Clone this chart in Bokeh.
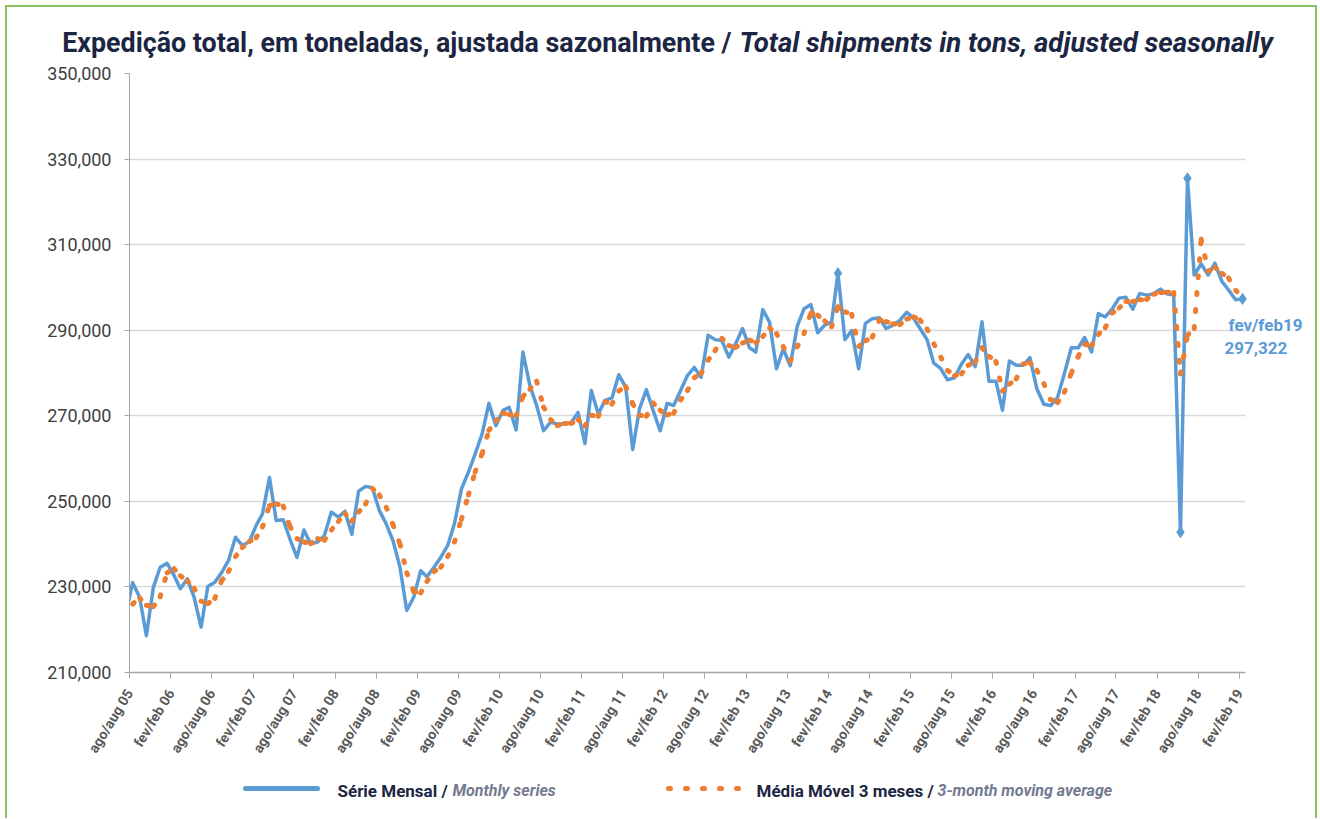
import numpy as np
import pandas as pd
from bokeh.plotting import figure
from bokeh.layouts import column
from bokeh.models import Range1d, FixedTicker, NumeralTickFormatter, Label
from bokeh.core.properties import value
from bokeh.embed import file_html
from bokeh.resources import INLINE

# ---------------- data (thousand tons, monthly, Jul-2005 .. Feb-2019) ----------------
first_month = "2005-07"
monthly = [
    223.5, 231.0, 227.6, 218.6, 229.9, 234.6,
    235.5, 232.7, 229.6, 231.9, 227.6, 220.6, 230.1, 231.1, 233.4, 236.2, 241.6, 239.7,
    240.5, 244.4, 247.1, 255.6, 245.5, 245.7, 241.2, 236.9, 243.3, 240.1, 240.5, 242.0,
    247.5, 246.3, 247.7, 242.3, 252.4, 253.5, 253.2, 247.9, 244.7, 240.8, 234.6, 224.5,
    227.6, 233.8, 232.4, 234.6, 236.9, 239.7, 244.8, 252.9, 256.8, 261.1, 265.8, 272.9,
    267.7, 271.2, 272.0, 266.7, 284.9, 277.1, 272.4, 266.5, 268.5, 268.1, 268.1, 268.4,
    270.8, 263.5, 275.9, 270.4, 273.6, 274.2, 279.6, 276.7, 262.1, 271.6, 276.1, 271.2,
    266.5, 272.9, 272.4, 275.9, 279.4, 281.3, 279.0, 288.8, 287.8, 287.6, 283.7, 286.8,
    290.4, 285.9, 284.9, 294.8, 291.9, 281.0, 285.6, 281.7, 290.9, 295.0, 296.0, 289.4,
    291.2, 291.9, 303.3, 287.8, 289.9, 281.0, 291.6, 292.7, 292.9, 290.4, 291.2, 292.3,
    294.2, 292.7, 290.4, 287.8, 282.3, 281.0, 278.4, 278.9, 282.1, 284.3, 281.5, 292.0,
    278.1, 278.1, 271.3, 282.8, 281.8, 281.8, 283.6, 276.3, 272.7, 272.4, 274.3, 279.8,
    285.9, 285.9, 288.3, 284.9, 293.9, 293.1, 294.9, 297.5, 297.7, 294.9, 298.6, 298.2,
    298.5, 299.6, 298.5, 298.2, 242.8, 325.5, 302.9, 305.5, 302.9, 305.7, 301.4, 299.4,
    297.1, 297.322,
]
moving_avg = [
    223.0, 226.0, 227.4, 225.7, 225.4, 227.7,
    233.3, 234.3, 232.6, 231.4, 229.7, 226.7, 226.1, 227.3, 231.5, 233.6, 237.1, 239.2,
    240.6, 241.5, 244.0, 249.0, 249.4, 248.9, 244.1, 241.3, 240.5, 240.1, 241.3, 240.9,
    243.3, 245.3, 247.2, 245.4, 247.5, 249.4, 253.0, 251.5, 248.6, 244.5, 240.0, 233.3,
    228.9, 228.6, 231.3, 233.6, 234.6, 237.1, 240.5, 245.8, 251.5, 256.9, 261.2, 266.6,
    268.8, 270.6, 270.3, 270.0, 274.5, 276.2, 278.1, 272.0, 269.1, 267.7, 268.2, 268.2,
    269.1, 267.6, 270.1, 269.9, 273.3, 272.7, 275.8, 276.8, 272.8, 270.1, 269.9, 273.0,
    271.3, 270.2, 270.6, 273.7, 275.9, 278.9, 279.9, 283.0, 285.2, 288.1, 286.4, 286.0,
    287.0, 287.7, 287.1, 288.5, 290.5, 289.2, 286.2, 282.8, 286.1, 289.2, 294.0, 293.5,
    292.2, 290.8, 295.5, 294.3, 293.7, 286.2, 287.5, 288.4, 292.4, 292.0, 291.5, 291.3,
    292.6, 293.1, 292.4, 290.3, 286.8, 283.7, 280.6, 279.4, 279.8, 281.8, 282.6, 285.9,
    283.9, 282.7, 275.8, 277.4, 278.6, 282.1, 282.4, 280.6, 277.5, 273.8, 273.1, 275.5,
    280.0, 283.9, 286.7, 286.4, 289.0, 290.6, 294.0, 295.2, 296.7, 296.7, 297.1, 297.2,
    298.4, 298.8, 298.9, 298.8, 279.8, 288.8, 290.4, 311.3, 303.8, 304.7, 303.3, 302.2,
    299.3, 297.9,
]
marked_months = ["2014-03", "2018-05", "2018-06", "2019-02"]
tick_labels = [
    "ago/aug 05", "fev/feb 06", "ago/aug 06", "fev/feb 07", "ago/aug 07", "fev/feb 08",
    "ago/aug 08", "fev/feb 09", "ago/aug 09", "fev/feb 10", "ago/aug 10", "fev/feb 11",
    "ago/aug 11", "fev/feb 12", "ago/aug 12", "fev/feb 13", "ago/aug 13", "fev/feb 14",
    "ago/aug 14", "fev/feb 15", "ago/aug 15", "fev/feb 16", "ago/aug 16", "fev/feb 17",
    "ago/aug 17", "fev/feb 18", "ago/aug 18", "fev/feb 19",
]
y_ticks = [210000, 230000, 250000, 270000, 290000, 310000, 330000, 350000]
last_label = ["fev/feb19", "297,322"]
title_pt = "Expedição total, em toneladas, ajustada sazonalmente /"
title_en = "Total shipments in tons, adjusted seasonally"
legend_pt = ["Série Mensal /", "Média Móvel 3 meses /"]
legend_en = ["Monthly series", "3-month moving average"]

# ---------------- styling constants ----------------
BLUE, ORANGE = "#5B9BD5", "#ED7D31"
NAVY, GREYBLUE = "#1C2541", "#737A90"
GREEN = "#8DC063"
FONT = "Roboto"
MA_DASH = "2 15"

base = pd.Timestamp("2005-08-01")
dates = pd.date_range(first_month + "-01", periods=len(monthly), freq="MS") + pd.Timedelta(days=14)
x = np.asarray((dates - base).days, dtype=float)
ym = np.array(monthly) * 1000
ya = np.array(moving_avg) * 1000
tick_dates = pd.date_range(base, periods=len(tick_labels), freq="6MS")
ticks = [int(d) for d in (tick_dates - base).days]
axis_end = (pd.Timestamp("2019-02-28") - base).days

# page geometry (content origin after css margin + border)
OX, OY = 7, 7
W = 1308
HT, HM, HL = 51, 712, 48
FRAME_L, FRAME_T, FRAME_B, PLOT_R = 129, 73, 672, 1245     # page px
ML = FRAME_L - OX
MTOP = FRAME_T - (OY + HT)
FH = FRAME_B - FRAME_T
FW = W - ML
x_end = axis_end * FW / (PLOT_R - FRAME_L)


def canvas_fig(h):
    # frame is aligned with the main chart's frame by the column layout,
    # so the x range is chosen so that x == local pixel
    f = figure(width=W, height=h, output_backend="svg", toolbar_location=None,
               x_range=Range1d(ML, W), y_range=Range1d(h, 0),
               x_axis_location=None, y_axis_location=None,
               min_border_left=ML, min_border_right=0, min_border_top=0, min_border_bottom=0,
               background_fill_color="white", border_fill_color="white",
               outline_line_color=None)
    f.title.visible = False
    f.xgrid.visible = False
    f.ygrid.visible = False
    return f

# ---------------- title ----------------
ft = canvas_fig(HT)
ty = 42 - OY
ft.text(x=[731 - OX], y=[ty], text=[title_pt], text_font=value(FONT), text_font_style="bold",
        text_font_size="26.8px", text_color=NAVY, text_align="right", text_baseline="middle",
        level="overlay")
ft.text(x=[739 - OX], y=[ty], text=[title_en], text_font=value(FONT),
        text_font_style="bold italic", text_font_size="27.6px", text_color=NAVY,
        text_align="left", text_baseline="middle", level="overlay")

# ---------------- main chart ----------------
p = figure(width=W, height=HM, output_backend="svg", toolbar_location=None,
           x_range=Range1d(0, x_end), y_range=Range1d(210000, 350000),
           min_border_left=ML, min_border_right=0, min_border_top=MTOP,
           min_border_bottom=HM - MTOP - FH,
           background_fill_color="white", border_fill_color="white",
           outline_line_color=None)
p.title.visible = False

p.xgrid.visible = False
p.ygrid.grid_line_color = "#D9D9D9"
p.ygrid.grid_line_width = 1.5
p.ygrid.cross_bounds = (0, axis_end)

p.yaxis.ticker = FixedTicker(ticks=y_ticks)
p.yaxis.formatter = NumeralTickFormatter(format="0,0")
p.yaxis.axis_line_color = "#A6A6A6"
p.yaxis.major_tick_line_color = "#A6A6A6"
p.yaxis.major_tick_out = 5
p.yaxis.major_tick_in = 0
p.yaxis.minor_tick_line_color = None
p.yaxis.major_label_text_font = FONT
p.yaxis.major_label_text_font_size = "18px"
p.yaxis.major_label_text_color = "#404040"
p.yaxis.major_label_standoff = 13

p.xaxis.bounds = (0, axis_end)
p.xaxis.ticker = FixedTicker(ticks=ticks)
p.xaxis.major_label_overrides = dict(zip(ticks, tick_labels))
p.xaxis.major_label_orientation = 1.02
p.xaxis.axis_line_color = "#A6A6A6"
p.xaxis.axis_line_width = 1.5
p.xaxis.major_tick_line_color = "#A6A6A6"
p.xaxis.major_tick_out = 6
p.xaxis.major_tick_in = 0
p.xaxis.minor_tick_line_color = None
p.xaxis.major_label_text_font = FONT
p.xaxis.major_label_text_font_style = "bold"
p.xaxis.major_label_text_font_size = "14px"
p.xaxis.major_label_text_color = "#595959"
p.xaxis.major_label_standoff = 12

p.line(x, ym, line_color=BLUE, line_width=3.5, line_join="round", line_cap="round")
seg_x = [[x[i], x[i + 1]] for i in range(len(x) - 1)]
seg_y = [[ya[i], ya[i + 1]] for i in range(len(x) - 1)]
p.multi_line(seg_x, seg_y, line_color=ORANGE, line_width=5, line_dash=MA_DASH, line_cap="round")

mk = [list(dates.strftime("%Y-%m")).index(m) for m in marked_months]
p.scatter(x[mk], ym[mk], marker="diamond", size=11, fill_color=BLUE, line_color=BLUE)

for txt, px, py in [(last_label[0], 1228, 324), (last_label[1], 1224, 347)]:
    p.add_layout(Label(x=px - FRAME_L, y=FRAME_B - py, x_units="screen", y_units="screen",
                       text=txt, text_font=FONT, text_font_style="bold",
                       text_font_size="17px", text_color=BLUE, text_baseline="middle"))

# ---------------- legend ----------------
fl = canvas_fig(HL)
ly = 788 - (OY + HT + HM)
fl.line([245 - OX, 317 - OX], [ly, ly], line_color=BLUE, line_width=5, line_cap="round")
fl.line([668 - OX, 741 - OX], [ly, ly], line_color=ORANGE, line_width=5,
        line_dash=MA_DASH, line_cap="round")
for (tx, txt, style, col, size) in [(337, legend_pt[0], "bold", NAVY, "17px"),
                                    (452, legend_en[0], "bold italic", GREYBLUE, "16px"),
                                    (756, legend_pt[1], "bold", NAVY, "17px"),
                                    (937, legend_en[1], "bold italic", GREYBLUE, "16px")]:
    fl.text(x=[tx - OX], y=[ly + 2], text=[txt], text_font=value(FONT), text_font_style=style,
            text_font_size=size, text_color=col, text_baseline="middle", level="overlay")

border = f"2px solid {GREEN}"
layout = column(ft, p, fl, spacing=0,
                styles={"margin-left": "5px", "margin-top": "5px",
                        "border-top": border, "border-left": border, "border-right": border})

open("out.html", "w").write(file_html(layout, INLINE))
